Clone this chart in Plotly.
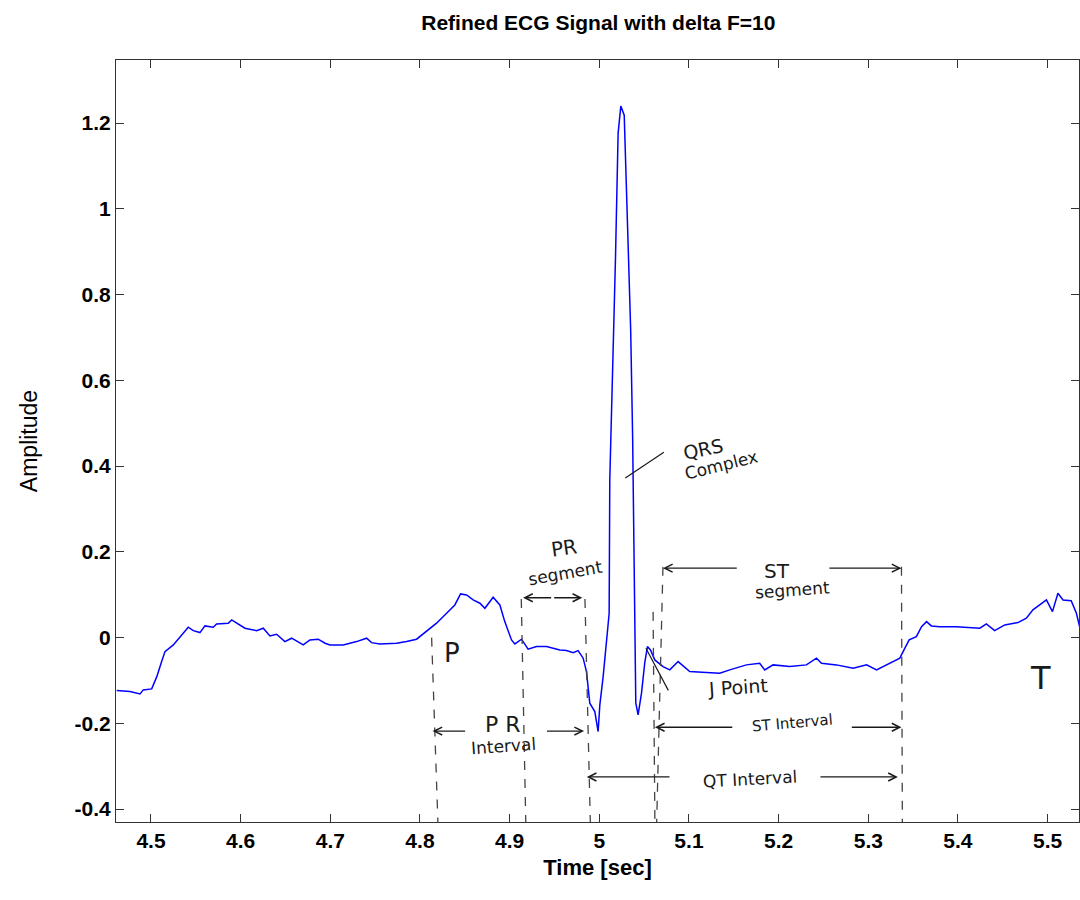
import plotly.graph_objects as go

# ECG trace samples (time in seconds, amplitude)
time_s = [4.4618, 4.4766, 4.4877, 4.4914, 4.5008, 4.5064, 4.5119, 4.5156, 4.5249, 4.5323,
          4.5416, 4.5472, 4.5546, 4.5602, 4.5695, 4.5732, 4.5862, 4.5900, 4.5973, 4.6048,
          4.6178, 4.6252, 4.6327, 4.6401, 4.6494, 4.6569, 4.6698, 4.6773, 4.6865, 4.6942,
          4.6996, 4.7144, 4.7293, 4.7405, 4.7460, 4.7553, 4.7739, 4.7851, 4.7962, 4.8074,
          4.8185, 4.8297, 4.8389, 4.8453, 4.8520, 4.8593, 4.8668, 4.8724, 4.8816, 4.8891,
          4.8946, 4.9021, 4.9058, 4.9133, 4.9206, 4.9300, 4.9411, 4.9560, 4.9634, 4.9708,
          4.9764, 4.9820, 4.9857, 4.9894, 4.9950, 4.9987, 5.0006, 5.0043, 5.0081, 5.0110,
          5.0117, 5.0136, 5.0154, 5.0181, 5.0210, 5.0240, 5.0278, 5.0289, 5.0323, 5.0350,
          5.0372, 5.0386, 5.0396, 5.0407, 5.0433, 5.0471, 5.0507, 5.0537, 5.0571, 5.0619,
          5.0711, 5.0786, 5.0879, 5.1009, 5.1195, 5.1343, 5.1455, 5.1641, 5.1789, 5.1845,
          5.1938, 5.2124, 5.2310, 5.2422, 5.2478, 5.2645, 5.2832, 5.2981, 5.3092, 5.3166,
          5.3278, 5.3352, 5.3408, 5.3456, 5.3536, 5.3594, 5.3650, 5.3703, 5.3796, 5.3982,
          5.4244, 5.4317, 5.4409, 5.4522, 5.4669, 5.4763, 5.4836, 5.4987, 5.5054, 5.5115,
          5.5172, 5.5263, 5.5321, 5.5357, 5.5400]
amplitude = [-0.1235, -0.1259, -0.1312, -0.1219, -0.1196, -0.0916, -0.0559, -0.0326, -0.0170, 0.0023,
             0.0242, 0.0163, 0.0117, 0.0273, 0.0242, 0.0319, 0.0336, 0.0413, 0.0319, 0.0219,
             0.0163, 0.0219, 0.0040, 0.0079, -0.0093, -0.0014, -0.0170, -0.0054, -0.0037, -0.0131,
             -0.0170, -0.0170, -0.0093, -0.0014, -0.0117, -0.0147, -0.0131, -0.0093, -0.0037, 0.0140,
             0.0336, 0.0569, 0.0762, 0.1019, 0.0995, 0.0879, 0.0802, 0.0685, 0.0942, 0.0762,
             0.0373, -0.0054, -0.0147, -0.0037, -0.0270, -0.0210, -0.0210, -0.0287, -0.0303, -0.0350,
             -0.0303, -0.0480, -0.0793, -0.1529, -0.1725, -0.2191, -0.1569, -0.0909, 0.0023, 0.0569,
             0.3676, 0.5152, 0.6900, 0.8881, 1.1758, 1.2394, 1.2184, 1.1485, 0.9310, 0.7172,
             0.4648, 0.2044, 0.0879, -0.1522, -0.1802, -0.1289, -0.0590, -0.0210, -0.0287, -0.0520,
             -0.0676, -0.0753, -0.0559, -0.0793, -0.0816, -0.0830, -0.0753, -0.0636, -0.0597, -0.0753,
             -0.0636, -0.0676, -0.0636, -0.0480, -0.0597, -0.0636, -0.0713, -0.0636, -0.0753, -0.0676,
             -0.0559, -0.0480, -0.0247, -0.0054, 0.0023, 0.0256, 0.0373, 0.0273, 0.0256, 0.0256,
             0.0219, 0.0319, 0.0163, 0.0296, 0.0350, 0.0452, 0.0646, 0.0879, 0.0606, 0.1035,
             0.0879, 0.0862, 0.0569, 0.0256, 0.0150]

x_ticks = [4.5, 4.6, 4.7, 4.8, 4.9, 5.0, 5.1, 5.2, 5.3, 5.4, 5.5]
x_tick_labels = ["4.5", "4.6", "4.7", "4.8", "4.9", "5", "5.1", "5.2", "5.3", "5.4", "5.5"]
y_ticks = [-0.4, -0.2, 0, 0.2, 0.4, 0.6, 0.8, 1.0, 1.2]
y_tick_labels = ["-0.4", "-0.2", "0", "0.2", "0.4", "0.6", "0.8", "1", "1.2"]

# Boundaries of the ECG intervals (seconds): P onset, P end, QRS onset, J point, ST end
p_onset, p_end, qrs_onset, j_point, st_end = 4.813, 4.913, 4.984, 5.068, 5.337

AXIS_FONT = "Liberation Sans Narrow, Liberation Sans, Arial"
HAND_FONT = "DejaVu Sans, Noto Sans"
INK = "#1a1a1a"

fig = go.Figure()
fig.add_trace(go.Scatter(x=time_s, y=amplitude, mode="lines",
                         line=dict(color="#0000ff", width=1.5), showlegend=False,
                         hoverinfo="skip"))

# dashed guide lines at the interval boundaries
guides = [(p_onset, 0.0, p_onset + 0.007), (p_end, 0.09, p_end + 0.005),
          (qrs_onset, 0.09, qrs_onset + 0.006), (j_point + 0.003, 0.165, j_point - 0.004),
          (j_point - 0.008, 0.06, j_point - 0.006), (st_end, 0.165, st_end + 0.001)]
for x0, top, x1 in guides:
    fig.add_shape(type="line", xref="x", yref="y", x0=x0, y0=top, x1=x1, y1=-0.43,
                  line=dict(color="#444", width=1.3, dash="dash"))


def arrow(x_tip, x_tail, y):
    fig.add_annotation(x=x_tip, y=y, ax=x_tail, ay=y, xref="x", yref="y",
                       axref="x", ayref="y", text="", showarrow=True,
                       arrowhead=5, arrowsize=1.2, arrowwidth=1.3, arrowcolor=INK)


def note(x, y, text, size=17, angle=0):
    fig.add_annotation(x=x, y=y, xref="x", yref="y", text=text, showarrow=False,
                       font=dict(family=HAND_FONT, size=size, color=INK), textangle=angle)


# PR segment
arrow(p_end + 0.002, 4.948, 0.093)
arrow(qrs_onset - 0.003, 4.948, 0.093)
note(4.961, 0.210, "PR", 20, -8)
note(4.962, 0.150, "segment", 17, -10)

# PR interval
arrow(p_onset + 0.001, 4.852, -0.218)
arrow(qrs_onset - 0.001, 4.940, -0.218)
note(4.893, -0.203, "P R", 22)
note(4.893, -0.253, "Interval", 17, -4)

# QRS complex pointer
fig.add_shape(type="line", xref="x", yref="y", x0=5.029, y0=0.372, x1=5.072, y1=0.432,
              line=dict(color=INK, width=1.2))
note(5.116, 0.44, "QRS", 19, -12)
note(5.136, 0.402, "Complex", 17, -14)

# ST segment
arrow(j_point + 0.003, 5.155, 0.162)
arrow(st_end, 5.255, 0.162)
note(5.198, 0.155, "ST", 20)
note(5.215, 0.11, "segment", 17, -4)

# J point pointer
fig.add_shape(type="line", xref="x", yref="y", x0=5.052, y0=-0.025, x1=5.077, y1=-0.123,
              line=dict(color=INK, width=1.2))
note(5.155, -0.115, "J Point", 19, -4)

# ST interval
arrow(j_point - 0.006, 5.15, -0.209)
arrow(st_end, 5.28, -0.209)
note(5.215, -0.2, "ST Interval", 15, -5)

# QT interval
arrow(qrs_onset + 0.002, 5.08, -0.325)
arrow(st_end - 0.004, 5.245, -0.325)
note(5.168, -0.33, "QT Interval", 17, -3)

# wave labels
note(4.836, -0.036, "P", 26)
note(5.492, -0.095, "T", 32)

axis_common = dict(showline=True, linecolor="#333", linewidth=1, mirror="ticks",
                   ticks="inside", ticklen=8, tickcolor="#333", showgrid=False,
                   zeroline=False,
                   tickfont=dict(family=AXIS_FONT, size=21, color="black"))

fig.update_layout(
    width=1080, height=900,
    paper_bgcolor="white", plot_bgcolor="white",
    margin=dict(l=116, r=1, t=60, b=78),
    title=dict(text="<b>Refined ECG Signal with delta F=10</b>", x=0.554, xanchor="center",
               y=0.975, yanchor="middle",
               font=dict(family=AXIS_FONT, size=21, color="black")),
    xaxis=dict(range=[4.461, 5.535], tickvals=x_ticks,
               ticktext=[f"<b>{t}</b>" for t in x_tick_labels],
               title=dict(text="<b>Time [sec]</b>", standoff=8,
                          font=dict(family=AXIS_FONT, size=22, color="black")),
               **axis_common),
    yaxis=dict(range=[-0.43, 1.347], tickvals=y_ticks,
               ticktext=[f"<b>{t}</b>" for t in y_tick_labels],
               title=dict(text="Amplitude", standoff=30,
                          font=dict(family=AXIS_FONT, size=23, color="black")),
               **axis_common),
)

fig.write_html("out.html")
